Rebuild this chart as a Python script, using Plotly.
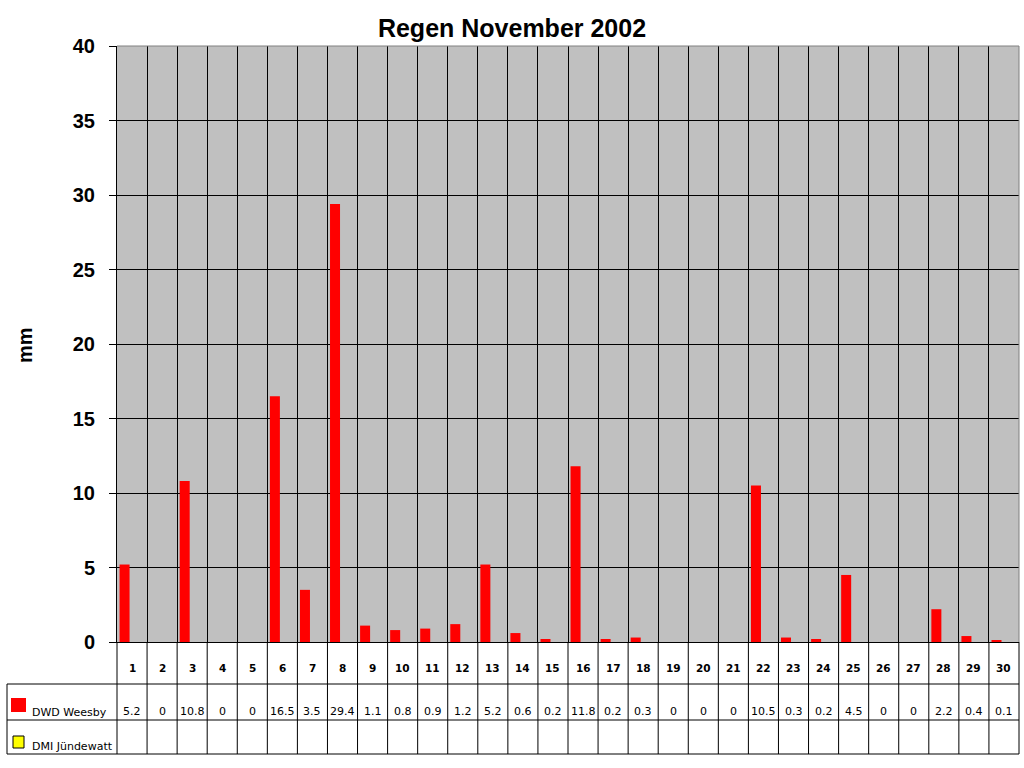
import plotly.graph_objects as go

days = [str(d) for d in range(1, 31)]
dwd_weesby = [5.2, 0, 10.8, 0, 0, 16.5, 3.5, 29.4, 1.1, 0.8, 0.9, 1.2, 5.2, 0.6, 0.2,
              11.8, 0.2, 0.3, 0, 0, 0, 10.5, 0.3, 0.2, 4.5, 0, 0, 2.2, 0.4, 0.1]
dmi_juendewatt = [None] * 30
series_names = ["DWD Weesby", "DMI Jündewatt"]
series_colors = ["#FF0000", "#FFFF00"]
title_text = "Regen November 2002"
y_title = "mm"
y_ticks = [0, 5, 10, 15, 20, 25, 30, 35, 40]

FONT = "Liberation Sans, Arial, sans-serif"
TFONT = "DejaVu Sans, Verdana, sans-serif"
N = len(days)
xs = list(range(1, N + 1))

# pixel helpers for the table below the plot (plot area: x 117..1019, y 46..642)
L, R, T, B = 117, 1019, 46, 642
def py(p):
    return (B - p) / (B - T)
def px(p):
    return (p - L) / (R - L)

fig = go.Figure()
fig.add_trace(go.Bar(x=xs, y=dwd_weesby, name=series_names[0],
                     marker=dict(color=series_colors[0], line=dict(width=0)),
                     offset=-0.415, width=0.333))
fig.add_trace(go.Bar(x=xs, y=dmi_juendewatt, name=series_names[1],
                     marker=dict(color=series_colors[1], line=dict(width=1, color="black")),
                     offset=-0.082, width=0.333))

LW = 1
shapes = []
# top/right plot borders (grey)
shapes.append(dict(type="line", xref="paper", yref="paper", x0=0, x1=1, y0=1, y1=1,
                   line=dict(color="#808080", width=LW)))
shapes.append(dict(type="line", xref="paper", yref="paper", x0=1, x1=1, y0=0, y1=1,
                   line=dict(color="#808080", width=LW)))
# table vertical lines
for k in range(N + 1):
    shapes.append(dict(type="line", xref="x domain", yref="paper", x0=k / N, x1=k / N,
                       y0=py(754), y1=0, line=dict(color="black", width=LW)))
# table horizontal lines
for yy in (684, 720, 754):
    shapes.append(dict(type="line", xref="paper", yref="paper", x0=px(7), x1=1,
                       y0=py(yy), y1=py(yy), line=dict(color="black", width=LW)))
# left column border
shapes.append(dict(type="line", xref="paper", yref="paper", x0=px(7), x1=px(7),
                   y0=py(684), y1=py(754), line=dict(color="black", width=LW)))
# legend keys
shapes.append(dict(type="rect", xref="paper", yref="paper", x0=px(11), x1=px(26),
                   y0=py(712), y1=py(698), fillcolor=series_colors[0], line=dict(width=0)))
shapes.append(dict(type="rect", xref="paper", yref="paper", x0=px(13), x1=px(24),
                   y0=py(748), y1=py(736), fillcolor=series_colors[1],
                   line=dict(color="black", width=1)))

annotations = []
for x, d in zip(xs, days):
    annotations.append(dict(x=x, y=py(668), xref="x", yref="paper", text=d, showarrow=False,
                            font=dict(family=TFONT, size=10.5, color="black", weight="bold"),
                            xanchor="center", yanchor="middle"))
for x, v in zip(xs, dwd_weesby):
    annotations.append(dict(x=x, y=py(711), xref="x", yref="paper", text=f"{v:g}",
                            showarrow=False, font=dict(family=TFONT, size=11, color="black"),
                            xanchor="center", yanchor="middle"))
for x, v in zip(xs, dmi_juendewatt):
    if v is not None:
        annotations.append(dict(x=x, y=py(745), xref="x", yref="paper", text=f"{v:g}",
                                showarrow=False, font=dict(family=TFONT, size=11, color="black"),
                                xanchor="center", yanchor="middle"))
annotations.append(dict(x=px(30), y=py(712), xref="paper", yref="paper", text=series_names[0],
                        showarrow=False, font=dict(family=TFONT, size=11, color="black"),
                        xanchor="left", yanchor="middle"))
annotations.append(dict(x=px(30), y=py(746), xref="paper", yref="paper", text=series_names[1],
                        showarrow=False, font=dict(family=TFONT, size=11, color="black"),
                        xanchor="left", yanchor="middle"))
annotations.append(dict(x=px(25), y=py(345), xref="paper", yref="paper", text=y_title,
                        textangle=-90, showarrow=False,
                        font=dict(family=FONT, size=20, color="black", weight="bold"),
                        xanchor="center", yanchor="middle"))

fig.update_layout(
    width=1024, height=768, autosize=False,
    margin=dict(l=L, r=1024 - R, t=T, b=768 - B, pad=0),
    paper_bgcolor="white", plot_bgcolor="#C0C0C0",
    showlegend=False, barmode="overlay",
    title=dict(text=title_text, x=0.5, xref="container", xanchor="center",
               y=1 - 28 / 768, yref="container", yanchor="middle",
               font=dict(family=FONT, size=25, color="black", weight="bold")),
    xaxis=dict(range=[0.5, N + 0.5], tickvals=[k + 0.5 for k in range(1, N)],
               showticklabels=False, ticks="", showgrid=True, gridcolor="black",
               gridwidth=LW, zeroline=False, showline=True, linecolor="black",
               linewidth=LW, fixedrange=True),
    yaxis=dict(range=[0, 40], tickvals=y_ticks, showgrid=True, gridcolor="black",
               gridwidth=LW, zeroline=False, showline=True, linecolor="black",
               linewidth=LW, ticks="outside", ticklen=7, tickcolor="black", tickwidth=LW,
               ticklabelstandoff=10,
               tickfont=dict(family=FONT, size=20, color="black", weight="bold"),
               fixedrange=True),
    shapes=shapes, annotations=annotations,
)

fig.write_html("out.html", config={"displayModeBar": False},
               post_script="document.body.style.margin='0';document.body.style.overflow='hidden';")
